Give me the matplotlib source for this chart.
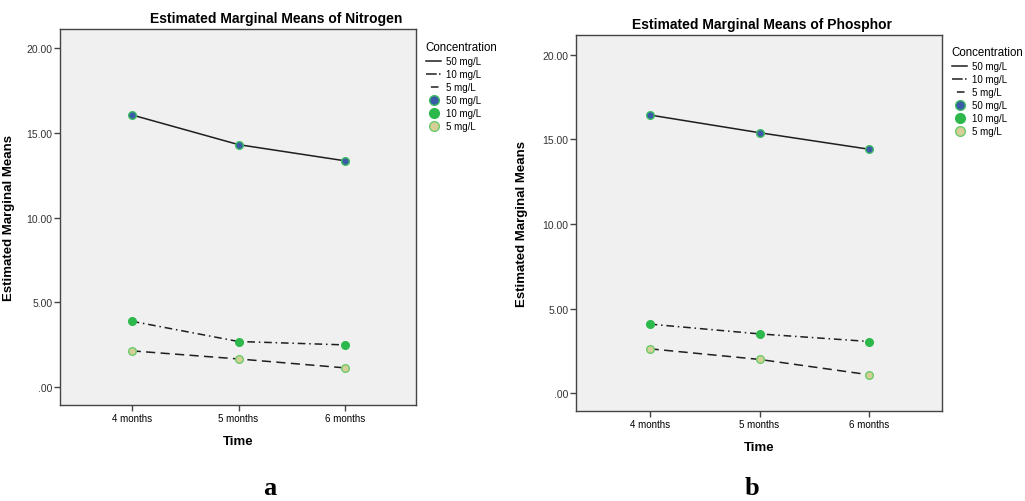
import matplotlib
matplotlib.use("Agg")
import matplotlib.pyplot as plt
from matplotlib.lines import Line2D

plt.rcParams['font.family'] = ['Liberation Sans', 'DejaVu Sans']

time_labels = ["4 months", "5 months", "6 months"]
conc_labels = ["50 mg/L", "10 mg/L", "5 mg/L"]
ytick_vals = [0, 5, 10, 15, 20]
ytick_labels = [".00", "5.00", "10.00", "15.00", "20.00"]

nitrogen_50 = [16.07, 14.31, 13.35]
nitrogen_10 = [3.88, 2.68, 2.48]
nitrogen_5 = [2.13, 1.65, 1.12]

phosphor_50 = [16.45, 15.40, 14.42]
phosphor_10 = [4.08, 3.50, 3.05]
phosphor_5 = [2.62, 1.99, 1.08]

line_styles = ['-', (0, (5, 2.5, 1, 2.5)), (0, (6, 3.5))]
legend_styles = ['-', (0, (7, 1.5, 1, 10)), (8, (5, 6.2))]
face_colors = ['#3A5BA6', '#2DB84B', '#D6CF97']
edge_colors = ['#3DBE62', '#2DB84B', '#6CCB6C']
line_color = '#1e1e1e'

fig = plt.figure(figsize=(10.25, 5.02), dpi=100)


def panel(rect, series, title, title_x, legend_anchor, ylim, ylab_x):
    ax = fig.add_axes(rect)
    ax.set_facecolor('#F0F0F0')
    x = list(range(1, len(time_labels) + 1))
    for vals, ls in zip(series, line_styles):
        ax.plot(x, vals, linestyle=ls, color=line_color, lw=1.1, zorder=2)
    for vals, fc, ec in zip(series, face_colors, edge_colors):
        ax.plot(x, vals, linestyle='none', marker='o', ms=5.5, mfc=fc, mec=ec,
                mew=1.0, zorder=3)
    ax.set_xlim(0.33, 3.66)
    ax.set_ylim(*ylim)
    ax.set_xticks(x)
    ax.set_xticklabels(time_labels, fontsize=7)
    ax.set_yticks(ytick_vals)
    ax.set_yticklabels(ytick_labels, fontsize=7.5, color='#333333')
    ax.tick_params(direction='out', length=4, width=1, color='#444444',
                   pad=1.5)
    for s in ax.spines.values():
        s.set_color('#444444')
        s.set_linewidth(1.0)
    ax.set_xlabel("Time", fontsize=9.5, fontweight='bold', labelpad=9)
    ax.set_ylabel("Estimated Marginal Means", fontsize=9.5, fontweight='bold')
    ax.yaxis.set_label_coords(ylab_x, 0.5)
    ax.set_title(title, fontsize=10, fontweight='bold', pad=5, x=title_x)
    handles = [Line2D([], [], color=line_color, lw=1.1, linestyle=ls)
               for ls in legend_styles]
    handles += [Line2D([], [], linestyle='none', marker='o', ms=7, mfc=fc,
                       mec=ec, mew=1.0)
                for fc, ec in zip(face_colors, edge_colors)]
    fig.legend(handles, conc_labels + conc_labels, title="Concentration",
               loc='upper left', bbox_to_anchor=legend_anchor,
               frameon=False, fontsize=7, title_fontsize=8.3,
               handlelength=1.6, handletextpad=0.5, labelspacing=0.32,
               alignment='left', borderpad=0.2)
    return ax


panel([60 / 1025, 1 - 406 / 502, 356 / 1025, 376 / 502],
      [nitrogen_50, nitrogen_10, nitrogen_5],
      "Estimated Marginal Means of Nitrogen", (276 - 60) / 356,
      (419 / 1025, 1 - 35 / 502), (-1.07, 21.14), (15 - 60) / 356)
panel([576 / 1025, 1 - 412 / 502, 366 / 1025, 376 / 502],
      [phosphor_50, phosphor_10, phosphor_5],
      "Estimated Marginal Means of Phosphor", (762 - 576) / 366,
      (945 / 1025, 1 - 40 / 502), (-1.06, 21.18), (528 - 576) / 366)

fig.text(270 / 1025, 1 - 489 / 502, "a", fontsize=19, fontweight='bold',
         family='Liberation Serif', ha='center', va='center')
fig.text(752 / 1025, 1 - 489 / 502, "b", fontsize=19, fontweight='bold',
         family='Liberation Serif', ha='center', va='center')

fig.savefig("out.png", dpi=100)
